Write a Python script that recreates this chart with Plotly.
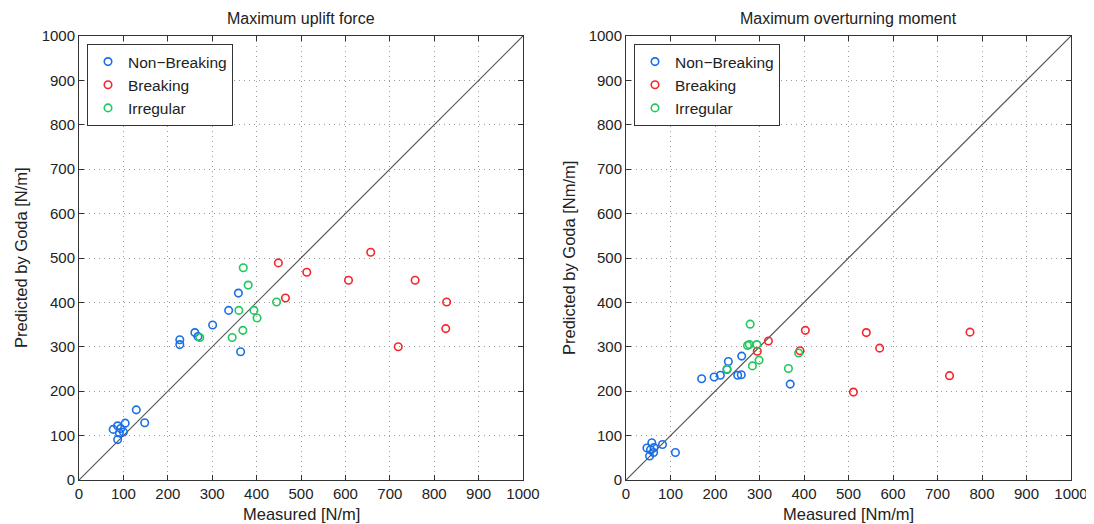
import plotly.graph_objects as go

# ---- data: Maximum uplift force [N/m] ----
up_nb_x = [77, 87, 94, 100, 104, 87, 91, 129, 148, 227, 227, 261, 268, 301, 337, 359, 364]
up_nb_y = [114, 122, 116, 108, 128, 91, 106, 158, 129, 316, 305, 332, 323, 349, 382, 421, 289]
up_br_x = [449, 465, 513, 607, 657, 757, 828, 826, 719]
up_br_y = [489, 410, 468, 450, 513, 450, 401, 341, 300]
up_ir_x = [370, 381, 360, 394, 401, 369, 345, 272, 445]
up_ir_y = [478, 439, 382, 382, 365, 337, 321, 321, 401]

# ---- data: Maximum overturning moment [Nm/m] ----
om_nb_x = [47, 58, 63, 53, 62, 82, 111, 55, 170, 198, 212, 230, 227, 251, 259, 260, 369]
om_nb_y = [72, 84, 73, 54, 62, 80, 62, 68, 228, 232, 236, 267, 249, 236, 237, 279, 216]
om_br_x = [295, 320, 391, 403, 511, 540, 570, 727, 773]
om_br_y = [290, 313, 291, 337, 198, 332, 297, 235, 333]
om_ir_x = [279, 273, 277, 294, 284, 299, 227, 365, 388]
om_ir_y = [351, 303, 305, 305, 257, 270, 250, 251, 286]

diag = [0, 1000]
ticks = list(range(0, 1001, 100))

names = ["Non\u2212Breaking", "Breaking", "Irregular"]
colors = ["#1a6fe8", "#f5262b", "#1fc85a"]

# page body has an 8px margin; figure is sized to fill the rest of the window
W, H, OFF = 1086, 516, 8
def px(x):
    return (x - OFF) / W
def py(y):
    return 1 - (y - OFF) / H

fig = go.Figure()

def add_panel(xs, ys, xa, ya, legend):
    fig.add_trace(go.Scatter(x=diag, y=diag, mode="lines", line=dict(color="#555555", width=1.2),
                             xaxis=xa, yaxis=ya, showlegend=False, hoverinfo="skip"))
    for (x, y), nm, c in zip(zip(xs, ys), names, colors):
        fig.add_trace(go.Scatter(x=x, y=y, mode="markers", name=nm,
                                 marker=dict(symbol="circle-open", size=7.5, color=c,
                                             line=dict(width=1.6, color=c)),
                                 xaxis=xa, yaxis=ya, legend=legend))

add_panel([up_nb_x, up_br_x, up_ir_x], [up_nb_y, up_br_y, up_ir_y], "x", "y", "legend")
add_panel([om_nb_x, om_br_x, om_ir_x], [om_nb_y, om_br_y, om_ir_y], "x2", "y2", "legend2")

axis_common = dict(range=[0, 1000], tickvals=ticks, ticks="inside", ticklen=5, tickcolor="#333",
                   showline=True, linecolor="#333", linewidth=1, mirror="ticks",
                   showgrid=True, gridcolor="#9a9a9a", griddash="1px,4px", gridwidth=1,
                   zeroline=False, tickfont=dict(size=15, color="#222"), automargin=False,
                   fixedrange=True)

ytop, ybot = py(36), py(480)
legend_common = dict(xanchor="left", yanchor="top", bgcolor="white", bordercolor="#333", borderwidth=1,
                     font=dict(size=15.5, color="#222"), itemwidth=30, tracegroupgap=0,
                     entrywidth=128, entrywidthmode="pixels")

def ann(text, x, y, angle=0, size=16.5):
    return dict(text=text, x=px(x), y=py(y), xref="paper", yref="paper", xanchor="center",
                yanchor="middle", showarrow=False, textangle=angle, font=dict(size=size, color="#222"))

fig.update_layout(
    width=W, height=H, margin=dict(l=0, r=0, t=0, b=0, autoexpand=False),
    paper_bgcolor="white", plot_bgcolor="white",
    font=dict(family="Liberation Sans, Arial, sans-serif", color="#222"),
    xaxis=dict(domain=[px(79), px(523)], anchor="y", **axis_common),
    yaxis=dict(domain=[ybot, ytop], anchor="x", **axis_common),
    xaxis2=dict(domain=[px(626), px(1071)], anchor="y2", **axis_common),
    yaxis2=dict(domain=[ybot, ytop], anchor="x2", **axis_common),
    legend=dict(x=px(87), y=py(44), **legend_common),
    legend2=dict(x=px(634), y=py(44), **legend_common),
    annotations=[
        ann("Maximum uplift force", (79 + 523) / 2, 18, size=16),
        ann("Maximum overturning moment", (626 + 1071) / 2, 18, size=16),
        ann("Measured [N/m]", (79 + 523) / 2, 514),
        ann("Measured [Nm/m]", (626 + 1071) / 2, 514),
        ann("Predicted by Goda [N/m]", 21, 258, -90),
        ann("Predicted by Goda [Nm/m]", 569, 258, -90),
    ],
)

fig.write_html("out.html")
